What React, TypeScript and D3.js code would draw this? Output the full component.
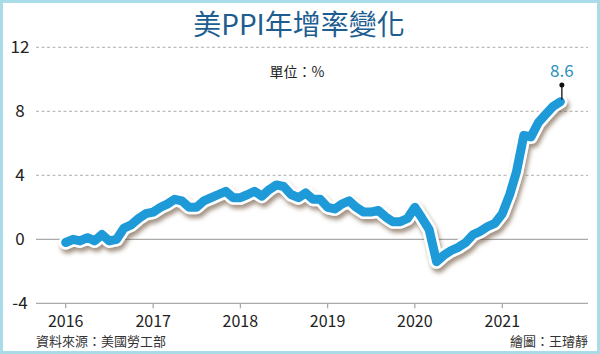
import React, { useEffect, useRef } from "react";
import * as d3 from "d3";

// PPI year-over-year change, %, monthly from Jan 2016
const years = [2016, 2017, 2018, 2019, 2020, 2021];
const values2016 = [-0.2, 0.0, -0.1, 0.1, -0.1, 0.3, -0.1, 0.0, 0.7, 0.9, 1.3, 1.6];
const values2017 = [1.7, 2.0, 2.2, 2.5, 2.4, 2.0, 2.0, 2.4, 2.6, 2.8, 3.0, 2.6];
const values2018 = [2.6, 2.8, 3.0, 2.7, 3.1, 3.4, 3.3, 2.8, 2.6, 2.9, 2.5, 2.5];
const values2019 = [2.0, 1.9, 2.2, 2.4, 2.0, 1.7, 1.7, 1.8, 1.4, 1.1, 1.1, 1.3];
const values2020 = [2.0, 1.3, 0.6, -1.4, -1.0, -0.7, -0.5, -0.2, 0.3, 0.5, 0.8, 1.0];
const values2021 = [1.6, 2.8, 4.2, 6.5, 6.4, 7.3, 7.8, 8.3, 8.6];
const yearValues = [values2016, values2017, values2018, values2019, values2020, values2021];

const yTicks = [-4, 0, 4, 8, 12];
const lastLabel = "8.6";

const W = 600;
const H = 354;

export default function App() {
  const ref = useRef<SVGSVGElement>(null);

  useEffect(() => {
    const svg = d3.select(ref.current);
    svg.selectAll("*").remove();

    const data: { date: Date; v: number }[] = [];
    yearValues.forEach((arr, yi) => {
      arr.forEach((v, m) => data.push({ date: new Date(years[yi], m, 1), v }));
    });

    const x = d3.scaleTime()
      .domain([new Date(2016, 0, 1), new Date(2021, 0, 1)])
      .range([65.7, 502.3]);
    const y = d3.scaleLinear().domain([-4, 12]).range([303.3, 47.3]);

    const font = "'Noto Sans CJK TC', 'Noto Sans', sans-serif";

    // frame
    svg.append("rect")
      .attr("x", 1.5).attr("y", 1.5)
      .attr("width", W - 3).attr("height", H - 3)
      .attr("fill", "#fff")
      .attr("stroke", "#a9dbe9")
      .attr("stroke-width", 3);

    const defs = svg.append("defs");
    const f = defs.append("filter").attr("id", "shadow")
      .attr("x", "-10%").attr("y", "-10%").attr("width", "120%").attr("height", "130%");
    f.append("feDropShadow")
      .attr("dx", 2).attr("dy", 4)
      .attr("stdDeviation", 2)
      .attr("flood-color", "#5a3a20")
      .attr("flood-opacity", 0.55);

    // grid
    yTicks.forEach(t => {
      const solid = t <= 0;
      svg.append("line")
        .attr("x1", 36).attr("x2", 588)
        .attr("y1", y(t)).attr("y2", y(t))
        .attr("stroke", solid ? "#aaa" : "#999")
        .attr("stroke-width", solid ? 1.3 : 0.8)
        .attr("stroke-dasharray", solid ? null : "3,2.5");
      svg.append("text")
        .attr("x", 20).attr("y", y(t))
        .attr("dy", "0.36em")
        .attr("text-anchor", "middle")
        .attr("font-family", font)
        .attr("font-size", 17)
        .attr("fill", "#222")
        .text(t);
    });

    // x ticks
    years.forEach(yr => {
      const xx = x(new Date(yr, 0, 1));
      svg.append("line")
        .attr("x1", xx).attr("x2", xx)
        .attr("y1", y(-4)).attr("y2", y(-4) + 5)
        .attr("stroke", "#aaa").attr("stroke-width", 1.3);
      svg.append("text")
        .attr("x", xx).attr("y", 327)
        .attr("text-anchor", "middle")
        .attr("font-family", font)
        .attr("font-size", 16)
        .attr("fill", "#222")
        .text(yr);
    });

    // line
    const line = d3.line<{ date: Date; v: number }>()
      .x(d => x(d.date))
      .y(d => y(d.v))
      .curve(d3.curveLinear);

    const g = svg.append("g").attr("filter", "url(#shadow)");
    g.append("path")
      .datum(data)
      .attr("d", line)
      .attr("fill", "none")
      .attr("stroke", "#fff")
      .attr("stroke-width", 14)
      .attr("stroke-linejoin", "round")
      .attr("stroke-linecap", "round");
    svg.append("path")
      .datum(data)
      .attr("d", line)
      .attr("fill", "none")
      .attr("stroke", "#1e9ad8")
      .attr("stroke-width", 9)
      .attr("stroke-linejoin", "round")
      .attr("stroke-linecap", "round");

    // last value callout
    const last = data[data.length - 1];
    const lx = x(last.date) + 1.5;
    svg.append("line")
      .attr("x1", lx).attr("x2", lx)
      .attr("y1", 85).attr("y2", y(last.v) - 2)
      .attr("stroke", "#111").attr("stroke-width", 1.3);
    svg.append("circle")
      .attr("cx", lx).attr("cy", 85).attr("r", 2.5)
      .attr("fill", "#111");
    svg.append("text")
      .attr("x", lx).attr("y", 77)
      .attr("text-anchor", "middle")
      .attr("font-family", font)
      .attr("font-size", 17)
      .attr("fill", "#2b8fbd")
      .text(lastLabel);

    // title
    svg.append("text")
      .attr("x", 299).attr("y", 35)
      .attr("text-anchor", "middle")
      .attr("font-family", font)
      .attr("font-size", 28)
      .attr("fill", "#1d5d8f")
      .text("美PPI年增率變化");

    svg.append("text")
      .attr("x", 297).attr("y", 77)
      .attr("text-anchor", "middle")
      .attr("font-family", font)
      .attr("font-size", 14)
      .attr("fill", "#222")
      .text("單位：%");

    // footer
    svg.append("text")
      .attr("x", 36).attr("y", 346)
      .attr("font-family", font)
      .attr("font-size", 13)
      .attr("fill", "#333")
      .text("資料來源：美國勞工部");
    svg.append("text")
      .attr("x", 588).attr("y", 346)
      .attr("text-anchor", "end")
      .attr("font-family", font)
      .attr("font-size", 13)
      .attr("fill", "#333")
      .text("繪圖：王璿靜");
  }, []);

  return (
    <svg
      ref={ref}
      width={W}
      height={H}
      style={{ position: "absolute", left: 0, top: 0, display: "block" }}
    />
  );
}
